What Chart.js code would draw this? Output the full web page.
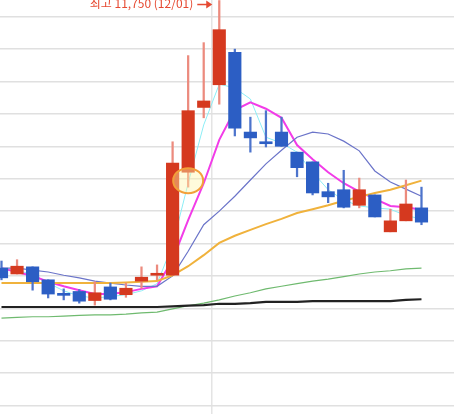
<!DOCTYPE html>
<html lang="ko">
<head>
<meta charset="utf-8">
<title>일봉 차트</title>
<script src="https://cdn.jsdelivr.net/npm/chart.js@4.4.1/dist/chart.umd.min.js"></script>
<style>
  html, body { margin: 0; padding: 0; background: #fff; }
  #wrap { position: relative; width: 454px; height: 414px; overflow: hidden; }
</style>
</head>
<body>
<div id="wrap"><canvas id="chart"></canvas></div>
<script>
// 날짜 (거래일)
const dates = ['11/11', '11/12', '11/13', '11/16', '11/17', '11/18', '11/19', '11/20', '11/23', '11/24',
               '11/25', '11/26', '11/27', '11/30', '12/01', '12/02', '12/03', '12/04', '12/07', '12/08',
               '12/09', '12/10', '12/11', '12/14', '12/15', '12/16', '12/17', '12/18'];

// 시가 / 종가 / 고가 / 저가
const opens  = [7620, 7530, 7640, 7440, 7210, 7260, 7120, 7330, 7210, 7420, 7510, 7510, 9100, 10100, 10450,
                10950, 9720, 9550, 9720, 9410, 9260, 8800, 8830, 8590, 8750, 8180, 8350, 8550];
const closes = [7470, 7650, 7410, 7220, 7200, 7110, 7240, 7140, 7310, 7480, 7520, 9240, 10050, 10200, 11300,
                9780, 9630, 9540, 9500, 9170, 8780, 8720, 8560, 8830, 8410, 8350, 8610, 8330];
const highs  = [7730, 7750, 7640, 7440, 7300, 7290, 7410, 7390, 7390, 7640, 7670, 9570, 10900, 11100, 11750,
                11000, 9950, 10050, 9950, 9410, 9260, 8930, 9130, 9010, 8750, 8530, 8980, 8870];
const lows   = [7440, 7530, 7280, 7160, 7130, 7080, 7050, 7130, 7170, 7310, 7440, 7510, 8870, 9940, 10150,
                9660, 9410, 9490, 9500, 9030, 8750, 8630, 8550, 8550, 8410, 8180, 8350, 8290];

// 이동평균선
const ma3   = [7590, 7580, 7530, 7390, 7270, 7190, 7160, 7180, 7210, 7270, 7380, 7980, 8930, 9830, 10460,
               10400, 10230, 9640, 9550, 9410, 9100, 8830, 8670, 8580, 8550, 8530, 8430, 8380];
const ma5   = [7620, 7560, 7500, 7410, 7340, 7280, 7220, 7220, 7250, 7300, 7340, 7750, 8360, 8930, 9600,
               10060, 10180, 10080, 9940, 9520, 9300, 9100, 8930, 8800, 8690, 8580, 8560, 8520];
const ma10  = [7620, 7620, 7590, 7560, 7510, 7470, 7420, 7390, 7360, 7340, 7340, 7500, 7880, 8290, 8500,
               8730, 8980, 9230, 9440, 9640, 9720, 9690, 9580, 9430, 9120, 8950, 8840, 8730];
const ma20  = [7390, 7390, 7390, 7390, 7390, 7390, 7390, 7390, 7400, 7410, 7420, 7510, 7650, 7820, 8010,
               8120, 8210, 8300, 8380, 8470, 8530, 8590, 8660, 8720, 8780, 8830, 8900, 8970];
const ma60  = [6850, 6860, 6870, 6870, 6880, 6890, 6900, 6900, 6910, 6930, 6940, 6990, 7040, 7080, 7130,
               7190, 7240, 7300, 7340, 7380, 7420, 7450, 7490, 7530, 7560, 7580, 7610, 7620];
const ma120 = [7020, 7020, 7020, 7020, 7020, 7020, 7020, 7020, 7020, 7020, 7020, 7030, 7040, 7050, 7070,
               7070, 7080, 7100, 7100, 7100, 7110, 7110, 7110, 7110, 7110, 7110, 7130, 7140];

// 가격 눈금 (가로 격자)
const priceTicks = [5500, 6000, 6500, 7000, 7500, 8000, 8500, 9000, 9500, 10000, 10500, 11000, 11500];

// 동그라미 표시 위치
const markIndex = 12;
const markPrice = 8970;

const RED = '#d5391f';
const BLUE = '#2c5ec4';
const RED_WICK = '#ec8b7e';
const BLUE_WICK = '#4d74cc';

const isUp = i => closes[i] >= opens[i];
const monthBreak = dates.findIndex(d => d.startsWith('12/')) - 0.5;

function maLine(values, color, width) {
    return {
        type: 'line',
        data: values.map((v, i) => ({ x: i, y: v })),
        borderColor: color,
        borderWidth: width,
        pointRadius: 0,
        tension: 0,
        order: 2
    };
}

const markerPlugin = {
    id: 'marker',
    afterDatasetsDraw(chart) {
        const { ctx } = chart;
        const x = chart.scales.x;
        const y = chart.scales.y;

        // 동그라미
        const cx = x.getPixelForValue(markIndex);
        const cy = y.getPixelForValue(markPrice);
        ctx.save();
        ctx.beginPath();
        ctx.ellipse(cx, cy, 15, 12.5, 0, 0, Math.PI * 2);
        ctx.fillStyle = 'rgba(255, 246, 170, 0.42)';
        ctx.fill();
        ctx.lineWidth = 2;
        ctx.strokeStyle = '#f2a03a';
        ctx.stroke();

        // 최고가 표시
        const hi = Math.max(...highs);
        const hiIdx = highs.indexOf(hi);
        const hx = x.getPixelForValue(hiIdx);
        const hy = y.getPixelForValue(hi);
        ctx.fillStyle = '#e64a32';
        ctx.strokeStyle = '#e64a32';
        ctx.font = '12px "Noto Sans CJK KR", sans-serif';
        ctx.textAlign = 'right';
        ctx.textBaseline = 'alphabetic';
        ctx.fillText('최고 ' + hi.toLocaleString('ko-KR') + ' (' + dates[hiIdx] + ')', hx - 26, hy + 7);
        ctx.lineWidth = 1.5;
        ctx.beginPath();
        ctx.moveTo(hx - 22, hy + 4);
        ctx.lineTo(hx - 12, hy + 4);
        ctx.stroke();
        ctx.beginPath();
        ctx.moveTo(hx - 7, hy + 4);
        ctx.lineTo(hx - 13, hy);
        ctx.lineTo(hx - 13, hy + 8);
        ctx.closePath();
        ctx.fill();
        ctx.restore();
    }
};

new Chart(document.getElementById('chart'), {
    type: 'bar',
    data: {
        datasets: [
            {
                // 몸통
                type: 'bar',
                data: dates.map((d, i) => ({ x: i, y: [opens[i], closes[i]] })),
                backgroundColor: ctx => isUp(ctx.dataIndex) ? RED : BLUE,
                barThickness: 12.5,
                minBarLength: 2,
                grouped: false,
                order: 0
            },
            {
                // 꼬리
                type: 'bar',
                data: dates.map((d, i) => ({ x: i, y: [lows[i], highs[i]] })),
                backgroundColor: ctx => isUp(ctx.dataIndex) ? RED_WICK : BLUE_WICK,
                barThickness: 1.6,
                grouped: false,
                order: 1
            },
            maLine(ma120, '#222222', 2.2),
            maLine(ma60, '#6fba6f', 1.2),
            maLine(ma20, '#f0b23c', 2),
            maLine(ma10, '#6b74c9', 1.2),
            maLine(ma5, '#f23ce8', 2),
            maLine(ma3, '#8ceef6', 1)
        ]
    },
    options: {
        responsive: true,
        maintainAspectRatio: false,
        animation: false,
        layout: { padding: 0 },
        plugins: {
            legend: { display: false },
            tooltip: {
                callbacks: {
                    title: items => dates[items[0].dataIndex]
                }
            }
        },
        scales: {
            x: {
                type: 'linear',
                min: -0.096,
                max: 29.09,
                offset: false,
                ticks: { display: false },
                border: { display: false },
                grid: { offset: false, drawTicks: false, color: '#e4e4e4', lineWidth: 1.5 },
                afterBuildTicks: axis => { axis.ticks = [{ value: monthBreak }]; }
            },
            y: {
                min: 5369,
                max: 11758,
                ticks: { display: false },
                border: { display: false },
                grid: { drawTicks: false, color: '#e0e0e0', lineWidth: 1.5 },
                afterBuildTicks: axis => { axis.ticks = priceTicks.map(v => ({ value: v })); }
            }
        }
    },
    plugins: [markerPlugin]
});
</script>
</body>
</html>
